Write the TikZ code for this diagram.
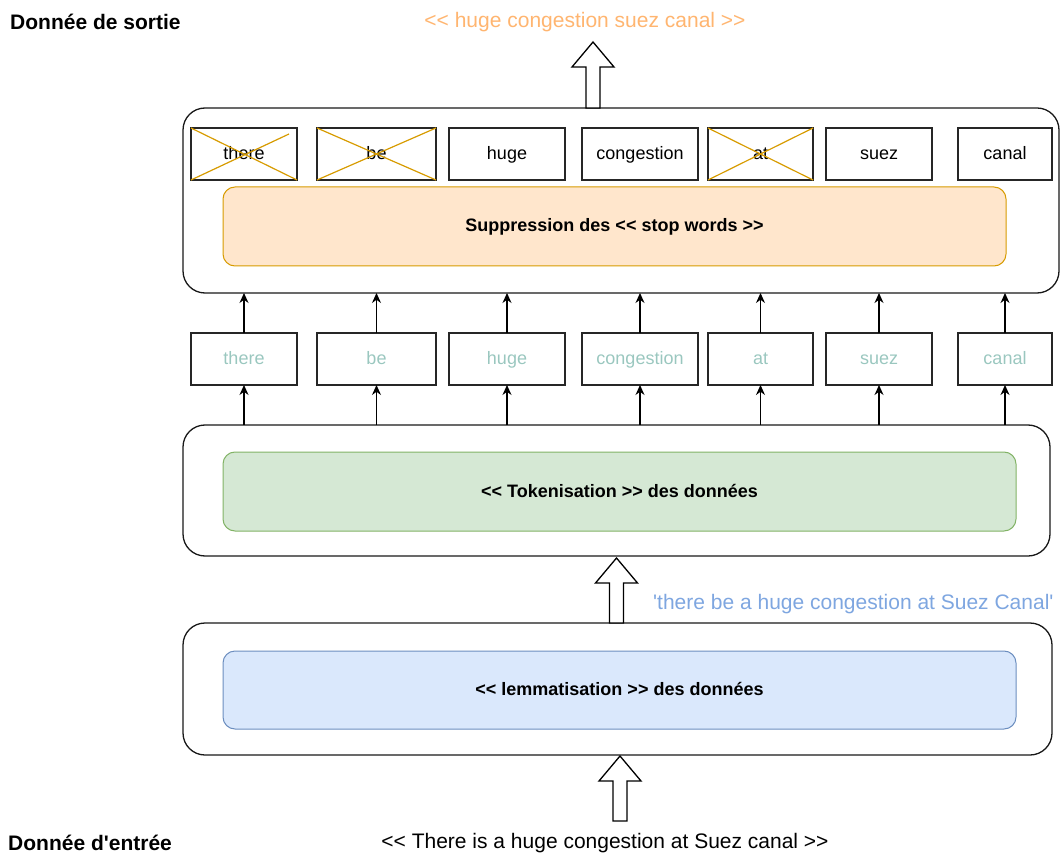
\documentclass[tikz,border=0pt]{standalone}
\usepackage{fontspec}
\setmainfont{Liberation Sans}[Ligatures=TeXOff]
\usetikzlibrary{arrows.meta,calc}
\definecolor{outcol}{HTML}{FFB570}
\definecolor{lemcol}{HTML}{7EA6E0}
\definecolor{tokcol}{HTML}{9AC7BF}
\definecolor{crosscol}{HTML}{D79B00}
\definecolor{orfill}{HTML}{FFE6CC}
\definecolor{ordraw}{HTML}{D79B00}
\definecolor{grfill}{HTML}{D5E8D4}
\definecolor{grdraw}{HTML}{82B366}
\definecolor{blfill}{HTML}{DAE8FC}
\definecolor{bldraw}{HTML}{6C8EBF}
\newcommand\upblockarrow[3]{%
  \draw[blockarrow] (#1-7,#3) -- (#1-7,#2+25) -- (#1-21,#2+25) -- (#1,#2)
    -- (#1+21,#2+25) -- (#1+7,#2+25) -- (#1+7,#3) -- cycle;}
\begin{document}
\begin{tikzpicture}[x=1pt,y=-1pt,
  container/.style={draw=black!90, line width=1.3pt, rounded corners=22pt, inner sep=0pt, outer sep=0pt},
  stage/.style={line width=1pt, rounded corners=12pt, inner sep=0pt, outer sep=0pt,
    text height=14pt, text depth=3pt, font=\fontsize{18}{21}\selectfont\bfseries},
  word/.style={draw=black!85, line width=1.3pt, inner sep=0pt, outer sep=0pt, minimum height=52pt,
    text height=14pt, text depth=3pt, font=\fontsize{18}{21}\selectfont},
  tok/.style={word, text=tokcol},
  link/.style={-{Stealth[length=10pt,width=9pt]}, line width=1.2pt},
  cross/.style={draw=crosscol, line width=1.2pt},
  big/.style={font=\fontsize{21}{25}\selectfont, inner sep=0pt},
  blockarrow/.style={draw=black, line width=1.3pt, fill=white, line join=miter}
]
\useasboundingbox (0,0) rectangle (1062,858);

% containers
\node[container, minimum width=876pt, minimum height=185pt] (topbox) at (621,200.5) {};
\node[container, minimum width=867pt, minimum height=131pt] (midbox) at (616.5,490.5) {};
\node[container, minimum width=869pt, minimum height=132pt] (botbox) at (617.5,689) {};

% stages
\node[stage, draw=ordraw, fill=orfill, minimum width=783pt, minimum height=79pt] (stop) at (614.5,226.5)
  {Suppression des << stop words >>};
\node[stage, draw=grdraw, fill=grfill, minimum width=793pt, minimum height=79pt] (tokst) at (619.5,491.5)
  {<< Tokenisation >> des données};
\node[stage, draw=bldraw, fill=blfill, minimum width=793pt, minimum height=78pt] (lemst) at (619.5,690)
  {<< lemmatisation >> des données};

% output words
\node[word, minimum width=106pt] (o1) at (244,154) {there};
\node[word, minimum width=119pt] (o2) at (376.5,154) {be};
\node[word, minimum width=116pt] (o3) at (507,154) {huge};
\node[word, minimum width=116pt] (o4) at (640,154) {congestion};
\node[word, minimum width=105pt] (o5) at (760.5,154) {at};
\node[word, minimum width=106pt] (o6) at (879,154) {suez};
\node[word, minimum width=94pt] (o7) at (1005,154) {canal};

\draw[cross] (o1.north west) -- (o1.south east);
\draw[cross] (o1.south west) -- ($(o1.north east)+(-8,6)$);
\foreach \n in {o2,o5}{
  \draw[cross] (\n.north west) -- (\n.south east);
  \draw[cross] (\n.south west) -- (\n.north east);
}

% tokens
\node[tok, minimum width=106pt] (t1) at (244,359) {there};
\node[tok, minimum width=119pt] (t2) at (376.5,359) {be};
\node[tok, minimum width=116pt] (t3) at (507,359) {huge};
\node[tok, minimum width=116pt] (t4) at (640,359) {congestion};
\node[tok, minimum width=105pt] (t5) at (760.5,359) {at};
\node[tok, minimum width=106pt] (t6) at (879,359) {suez};
\node[tok, minimum width=94pt] (t7) at (1005,359) {canal};

\foreach \i in {1,...,7}{
  \draw[link] (midbox.north -| t\i.south) -- (t\i.south);
  \draw[link] (t\i.north) -- (topbox.south -| t\i.north);
}

% block arrows
\upblockarrow{593}{42}{108}
\upblockarrow{616.5}{558}{623}
\upblockarrow{620}{756}{821}

% labels
\node[big, font=\fontsize{21}{25}\selectfont\bfseries, anchor=west] (outlbl) at (10,22) {Donnée de sortie};
\node[big, text=outcol] (outtxt) at (585,22) {<< huge congestion suez canal >>};
\node[big, text=lemcol, anchor=west] (lemtxt) at (653,604) {'there be a huge congestion at Suez Canal'};
\node[big, font=\fontsize{21}{25}\selectfont\bfseries, anchor=west] (inlbl) at (8,843) {Donnée d'entrée};
\node[big] (intxt) at (605,843) {<< There is a huge congestion at Suez canal >>};
\end{tikzpicture}
\end{document}
